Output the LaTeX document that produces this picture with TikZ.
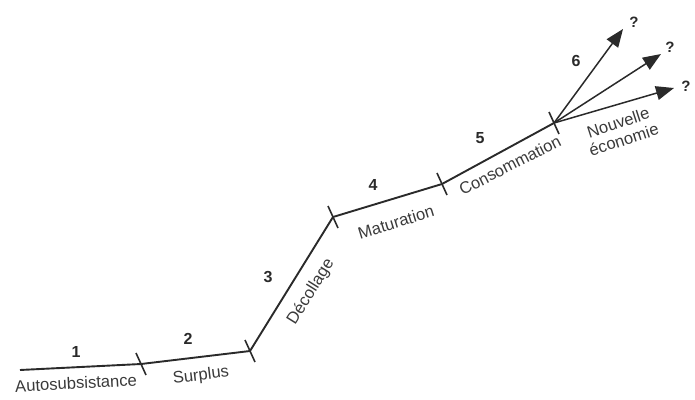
\documentclass[tikz,border=0pt]{standalone}
\usepackage{fontspec}
\setmainfont{Liberation Sans}
\usetikzlibrary{arrows.meta}
\definecolor{ink}{HTML}{2A2A2A}
\definecolor{txt}{HTML}{3A3A3A}
\begin{document}
\begin{tikzpicture}[x=1pt,y=-1pt,
  curve/.style={draw=ink,line width=1.9pt,line join=round},
  tick/.style={draw=ink,line width=1.6pt},
  fut/.style={draw=ink,line width=1.5pt,-{Triangle[length=18pt,width=14pt]}},
  lab/.style={text=txt,font=\fontsize{16.6}{18}\selectfont,inner sep=0pt},
  num/.style={text=ink,font=\bfseries\fontsize{16}{17}\selectfont,inner sep=0pt},
  q/.style={text=ink,font=\bfseries\fontsize{15}{16}\selectfont,inner sep=0pt}]
\useasboundingbox (0,0) rectangle (695,399);
\coordinate (p0) at (20,370);
\coordinate (p1) at (141,364);
\coordinate (p2) at (250,351);
\coordinate (p3) at (333,217);
\coordinate (p4) at (442,184);
\coordinate (p5) at (554,123);
\coordinate (a1) at (623,29);
\coordinate (a2) at (661,54);
\coordinate (a3) at (674,88);
\draw[curve] (p0) -- (p1) -- (p2) -- (p3) -- (p4) -- (p5);
\foreach \p in {p1,p2,p3,p4,p5}
  \draw[tick] ([shift={(-5,-11)}]\p) -- ([shift={(5,11)}]\p);
\draw[fut] (p5) -- (a1);
\draw[fut] (p5) -- (a2);
\draw[fut] (p5) -- (a3);
\node[q] (q1) at (634,22) {?};
\node[q] (q2) at (670,47) {?};
\node[q] (q3) at (686,86) {?};
\node[num] (n1) at (76,352) {1};
\node[num] (n2) at (188,339) {2};
\node[num] (n3) at (268,277) {3};
\node[num] (n4) at (373,185) {4};
\node[num] (n5) at (480,138) {5};
\node[num] (n6) at (576,61) {6};
\node[lab,rotate=3] (l1) at (76,383) {Autosubsistance};
\node[lab,rotate=7] (l2) at (201,376) {Surplus};
\node[lab,rotate=58] (l3) at (311,292) {Décollage};
\node[lab,rotate=17] (l4) at (396,222) {Maturation};
\node[lab,rotate=27] (l5) at (510,165) {Consommation};
\node[lab,rotate=18,align=center] (l6) at (621,131) {Nouvelle\\économie};
\end{tikzpicture}
\end{document}
